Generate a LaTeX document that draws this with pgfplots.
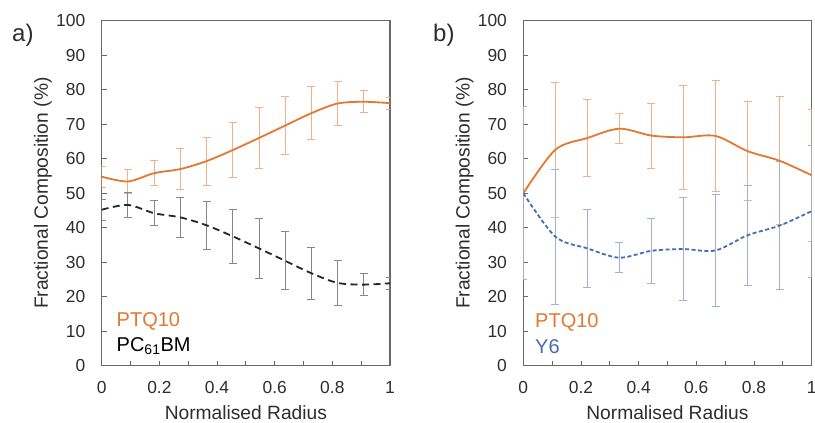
\documentclass[border=0pt]{standalone}
\usepackage{pgfplots}
\pgfplotsset{compat=1.18}
\usepackage{fontspec}
\setmainfont{Liberation Sans}
\definecolor{ptq}{RGB}{226,120,50}
\definecolor{ptqbar}{RGB}{240,176,138}
\definecolor{pcbar}{RGB}{135,135,135}
\definecolor{ysix}{RGB}{70,108,178}
\definecolor{ysixbar}{RGB}{160,178,216}
\definecolor{axgray}{RGB}{105,105,105}
\definecolor{txt}{RGB}{45,45,45}

\pgfplotsset{
 myaxis/.style={
  scale only axis, width=288.3pt, height=345pt, anchor=south west,
  xmin=0, xmax=1, ymin=0, ymax=100,
  xtick={0,0.2,0.4,0.6,0.8,1}, minor xtick={0.1,0.3,0.5,0.7,0.9},
  ytick={0,10,...,100},
  tick align=inside, xtick pos=bottom, ytick pos=left,
  major tick length=5pt, minor tick length=5pt,
  every tick/.style={axgray, line width=0.8pt},
  axis line style={axgray, line width=1.1pt},
  font=\fontsize{19.2}{23}\selectfont,
  ticklabel style={text=txt, font=\fontsize{17.4}{21}\selectfont},
  /pgf/number format/assume math mode=true,
  yticklabel style={xshift=-12.9pt},
  xticklabel style={yshift=-11.8pt},
  xlabel={Normalised Radius}, ylabel={Fractional Composition (\%)},
  xlabel style={at={(axis description cs:0.5,-0.1574)}, anchor=base, text=txt},
  ylabel style={at={(axis description cs:-0.1863,0.5)}, anchor=base, text=txt},
  clip=true,
 },
 ebar/.style={draw=none, mark=none, forget plot,
  error bars/.cd, y dir=both, y explicit,
  error bar style={color=#1, line width=0.9pt},
  error mark options={rotate=90, mark size=4pt, color=#1, line width=0.9pt}},
}

\pgfplotstableread{
x      ptq   pc    e
0      54.8  45.2  3.0
0.0909 53.4  46.6  3.6
0.1818 55.8  44.2  3.6
0.2727 57.0  43.0  5.9
0.3636 59.3  40.7  7.0
0.4545 62.5  37.5  7.9
0.5455 66.0  34.0  8.8
0.6364 69.6  30.4  8.4
0.7273 73.2  26.8  7.6
0.8182 76.0  24.0  6.4
0.9091 76.5  23.5  3.2
1      76.1  23.9  1.7
}\tableA

\pgfplotstableread{
x      ptq   ysix  e
0      50.0  50.0  25.0
0.1111 62.6  37.4  19.6
0.2222 66.0  34.0  11.2
0.3333 68.7  31.3  4.3
0.4444 66.7  33.3  9.4
0.5556 66.2  33.8  15.0
0.6667 66.6  33.4  16.2
0.7778 62.2  37.8  14.4
0.8889 59.4  40.6  18.6
1      55.2  44.8  19.1
}\tableB

\begin{document}
\begin{tikzpicture}
\useasboundingbox (0,0) rectangle (815pt,423pt);

\begin{axis}[myaxis, at={(101.7pt,57.3pt)}]
\addplot+[ebar=ptqbar] table[x=x, y=ptq, y error=e] {\tableA};
\addplot+[ebar=pcbar] table[x=x, y=pc, y error=e] {\tableA};
\addplot[ptq, line width=1.8pt, smooth, no marks] table[x=x, y=ptq] {\tableA};
\addplot[black!85, line width=1.8pt, smooth, no marks, dash pattern=on 7pt off 4.5pt] table[x=x, y=pc] {\tableA};
\end{axis}

\begin{axis}[myaxis, at={(523.3pt,57.3pt)}]
\addplot+[ebar=ptqbar] table[x=x, y=ptq, y error=e] {\tableB};
\addplot+[ebar=ysixbar] table[x=x, y=ysix, y error=e] {\tableB};
\addplot[ptq, line width=1.8pt, smooth, no marks] table[x=x, y=ptq] {\tableB};
\addplot[ysix, line width=1.8pt, smooth, no marks, dash pattern=on 4pt off 2.5pt] table[x=x, y=ysix] {\tableB};
\end{axis}

\node[anchor=base west, inner sep=0, text=txt, font=\fontsize{24}{28}\selectfont] at (12pt,381.3pt) {a)};
\node[anchor=base west, inner sep=0, text=txt, font=\fontsize{24}{28}\selectfont] at (433pt,381.3pt) {b)};

\node[anchor=base west, inner sep=0, text=ptq, font=\fontsize{20}{24}\selectfont] at (116.5pt,96.3pt) {PTQ10};
\node[anchor=base west, inner sep=0, text=black, font=\fontsize{20}{24}\selectfont] at (116.5pt,71.3pt) {PC\textsubscript{61}BM};
\node[anchor=base west, inner sep=0, text=ptq, font=\fontsize{20}{24}\selectfont] at (535pt,95pt) {PTQ10};
\node[anchor=base west, inner sep=0, text=ysix, font=\fontsize{20}{24}\selectfont] at (535pt,69.5pt) {Y6};
\end{tikzpicture}
\end{document}
